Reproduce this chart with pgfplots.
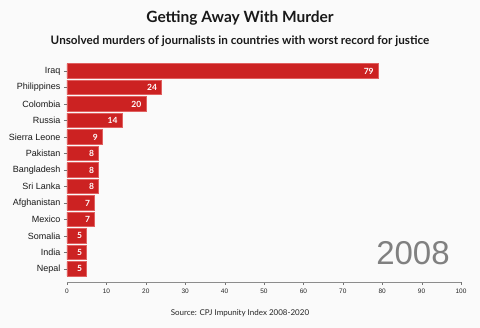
\documentclass[border=0pt]{standalone}
\usepackage{fontspec}
\setmainfont{Liberation Sans}
\newfontfamily\lato{Lato}
\usepackage{pgfplots}
\pgfplotsset{compat=1.18}
\definecolor{barred}{HTML}{CC2222}
\definecolor{baredge}{HTML}{E06060}
\definecolor{bg}{HTML}{FAFAFA}
\begin{document}
\begin{tikzpicture}
\fill[bg] (0pt,0pt) rectangle (480pt,328pt);
\useasboundingbox (0pt,0pt) rectangle (480pt,328pt);
\node[font=\lato\bfseries\fontsize{15.5}{18}\selectfont, text=black!90] at (240pt,310pt) {Getting Away With Murder};
\node[font=\lato\bfseries\fontsize{11.7}{13}\selectfont, text=black!90] at (240pt,287pt) {Unsolved murders of journalists in countries with worst record for justice};
\node[font=\lato\fontsize{8}{10}\selectfont, text=black!85] at (240pt,15pt) {Source: CPJ Impunity Index 2008-2020};
\begin{axis}[
  at={(67pt,46pt)}, anchor=south west,
  scale only axis, width=394pt, height=219.3pt,
  xmin=0, xmax=100, ymin=-0.5, ymax=12.79, y dir=reverse,
  xbar, bar width=14.5pt,
  axis x line*=bottom, axis y line*=left,
  y axis line style={draw=none},
  x axis line style={draw=black!45},
  tick align=outside, major tick length=3pt,
  tick style={black!55},
  xtick={0,10,...,100},
  ytick={0,...,12},
  yticklabels={Iraq,Philippines,Colombia,Russia,Sierra Leone,Pakistan,Bangladesh,Sri Lanka,Afghanistan,Mexico,Somalia,India,Nepal},
  y tick label style={font=\fontsize{9}{10}\selectfont, text=black!90},
  x tick label style={font=\fontsize{6.5}{8}\selectfont, text=black!85},
  /pgf/number format/assume math mode=true,
  point meta=x,
  nodes near coords,
  nodes near coords style={anchor=east, text=white, font=\lato\bfseries\fontsize{8.5}{10}\selectfont, xshift=-1pt},
]
\addplot[fill=barred, draw=baredge, line width=0.5pt] coordinates {
(79,0) (24,1) (20,2) (14,3) (9,4) (8,5) (8,6) (8,7) (7,8) (7,9) (5,10) (5,11) (5,12)
};
\end{axis}
\node[font=\fontsize{33}{36}\selectfont, text=black!50] at (413pt,75pt) {2008};
\end{tikzpicture}
\end{document}
